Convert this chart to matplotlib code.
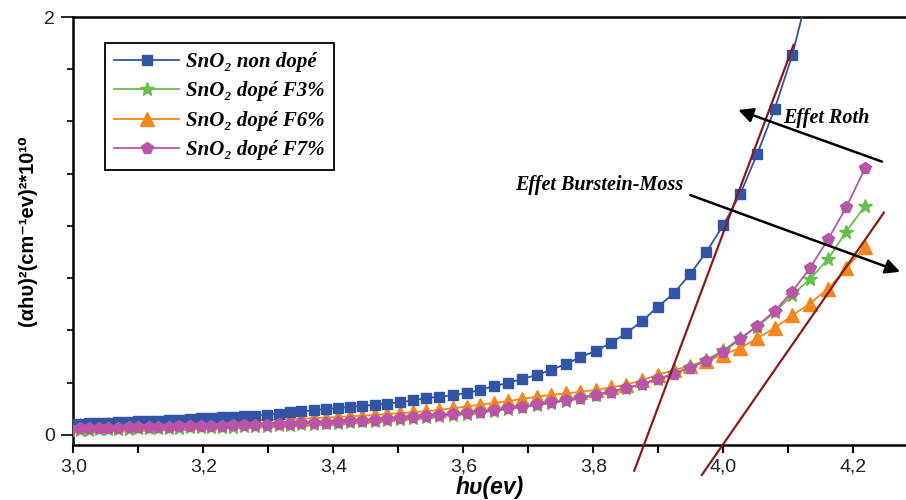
import matplotlib
matplotlib.use("Agg")
import matplotlib.pyplot as plt
from matplotlib.ticker import MultipleLocator, FixedLocator, FuncFormatter

# ---------------- data ----------------
photon_energy_ev = [
    2.995, 3.010, 3.024, 3.039, 3.054, 3.069, 3.085, 3.100, 3.116, 3.131,
    3.147, 3.163, 3.179, 3.196, 3.212, 3.229, 3.246, 3.263, 3.280, 3.298,
    3.316, 3.333, 3.351, 3.370, 3.388, 3.407, 3.425, 3.444, 3.464, 3.483,
    3.503, 3.523, 3.543, 3.563, 3.584, 3.605, 3.626, 3.647, 3.669, 3.690,
    3.713, 3.735, 3.758, 3.780, 3.804, 3.827, 3.851, 3.875, 3.899, 3.924,
    3.949, 3.974, 4.000, 4.026, 4.052, 4.079, 4.106, 4.133, 4.161, 4.189,
    4.218]

sno2_undoped = [
    0.052, 0.054, 0.055, 0.057, 0.059, 0.061, 0.063, 0.065, 0.067, 0.069,
    0.071, 0.073, 0.076, 0.079, 0.082, 0.085, 0.088, 0.090, 0.093, 0.097,
    0.102, 0.108, 0.113, 0.118, 0.124, 0.129, 0.134, 0.139, 0.144, 0.150,
    0.157, 0.165, 0.177, 0.182, 0.191, 0.201, 0.215, 0.234, 0.249, 0.268,
    0.287, 0.311, 0.340, 0.373, 0.402, 0.440, 0.488, 0.545, 0.612, 0.679,
    0.770, 0.876, 1.005, 1.153, 1.344, 1.560, 1.818, 2.150]

sno2_f3 = [
    0.024, 0.025, 0.026, 0.027, 0.028, 0.029, 0.030, 0.031, 0.032, 0.033,
    0.034, 0.035, 0.036, 0.037, 0.038, 0.039, 0.040, 0.041, 0.043, 0.045,
    0.047, 0.049, 0.051, 0.053, 0.056, 0.059, 0.062, 0.065, 0.068, 0.072,
    0.076, 0.080, 0.085, 0.090, 0.095, 0.101, 0.108, 0.115, 0.123, 0.132,
    0.142, 0.152, 0.163, 0.176, 0.190, 0.206, 0.224, 0.245, 0.268, 0.295,
    0.326, 0.360, 0.405, 0.464, 0.518, 0.587, 0.670, 0.745, 0.841, 0.973,
    1.096]

sno2_f6 = [
    0.047, 0.048, 0.049, 0.050, 0.051, 0.052, 0.053, 0.054, 0.055, 0.057,
    0.058, 0.059, 0.061, 0.062, 0.064, 0.065, 0.067, 0.068, 0.070, 0.072,
    0.074, 0.076, 0.078, 0.081, 0.083, 0.086, 0.089, 0.092, 0.096, 0.100,
    0.104, 0.109, 0.114, 0.120, 0.128, 0.136, 0.145, 0.153, 0.162, 0.172,
    0.183, 0.192, 0.199, 0.206, 0.216, 0.228, 0.241, 0.262, 0.288, 0.310,
    0.332, 0.355, 0.384, 0.416, 0.462, 0.512, 0.572, 0.628, 0.700, 0.797,
    0.900]

sno2_f7 = [
    0.030, 0.031, 0.032, 0.033, 0.034, 0.035, 0.036, 0.037, 0.038, 0.039,
    0.040, 0.041, 0.042, 0.043, 0.044, 0.045, 0.046, 0.047, 0.048, 0.049,
    0.051, 0.053, 0.055, 0.057, 0.059, 0.062, 0.065, 0.068, 0.071, 0.075,
    0.080, 0.084, 0.089, 0.094, 0.099, 0.105, 0.112, 0.119, 0.127, 0.136,
    0.146, 0.156, 0.167, 0.179, 0.193, 0.208, 0.225, 0.244, 0.266, 0.292,
    0.322, 0.355, 0.399, 0.458, 0.522, 0.593, 0.686, 0.797, 0.936, 1.089,
    1.276]

series_labels = ["SnO\u2082 non dopé", "SnO\u2082 dopé F3%",
                 "SnO\u2082 dopé F6%", "SnO\u2082 dopé F7%"]

# linear fits (end points)
fit_undoped_x = [3.863, 4.108]
fit_undoped_y = [-0.171, 1.866]
fit_doped_x = [3.967, 4.247]
fit_doped_y = [-0.191, 1.064]

# annotation arrows (tail -> head) and texts
roth_tail = (4.244, 1.308)
roth_head = (4.023, 1.555)
bm_tail = (3.949, 1.148)
bm_head = (4.272, 0.781)
roth_text_pos = (4.092, 1.517)
bm_text_pos = (3.679, 1.196)

x_tick_values = [3.0, 3.2, 3.4, 3.6, 3.8, 4.0, 4.2]
y_tick_values = [0, 2]

# ---------------- figure ----------------
fig = plt.figure(figsize=(9.06, 5.0), dpi=100)
ax = fig.add_axes([73.3 / 906, 55 / 500, 1 - 73.3 / 906, (445 - 17) / 500])

serif_bi = dict(family=["Liberation Serif", "DejaVu Serif"], weight="bold", style="italic")

blue = "#3154A5"
green = "#66C04A"
orange = "#F7861E"
pink = "#B955A8"

n_blue = len(sno2_undoped)
ax.plot(photon_energy_ev[:n_blue], sno2_undoped, color=blue, lw=1.3,
        marker="s", ms=7.5, mec=blue, mfc=blue, label=series_labels[0], zorder=3)
ax.plot(photon_energy_ev, sno2_f3, color=green, lw=1.3,
        marker="*", ms=10, mec=green, mfc=green, label=series_labels[1], zorder=3)
ax.plot(photon_energy_ev, sno2_f6, color=orange, lw=1.3,
        marker="^", ms=9.5, mec=orange, mfc=orange, label=series_labels[2], zorder=2)
ax.plot(photon_energy_ev, sno2_f7, color=pink, lw=1.3,
        marker="p", ms=8.5, mec=pink, mfc=pink, label=series_labels[3], zorder=4)

fit_color = "#8B1A1A"
ax.plot(fit_undoped_x, fit_undoped_y, color=fit_color, lw=1.6, clip_on=False, zorder=5)
ax.plot(fit_doped_x, fit_doped_y, color=fit_color, lw=1.6, clip_on=False, zorder=5)

arrow_props = dict(arrowstyle="-|>", color="black", lw=1.8, mutation_scale=22,
                   shrinkA=0, shrinkB=0)
ax.annotate("", xy=roth_head, xytext=roth_tail, arrowprops=arrow_props, zorder=6)
ax.annotate("", xy=bm_head, xytext=bm_tail, arrowprops=arrow_props, zorder=6)
ax.text(*roth_text_pos, "Effet Roth", fontsize=14.5, va="center", ha="left", **serif_bi)
ax.text(*bm_text_pos, "Effet Burstein-Moss", fontsize=14.5, va="center", ha="left", **serif_bi)

ax.set_xlim(3.0, 4.281)
ax.set_ylim(-0.048, 2.0)

ax.xaxis.set_major_locator(FixedLocator(x_tick_values))
ax.xaxis.set_minor_locator(MultipleLocator(0.1))
ax.xaxis.set_major_formatter(FuncFormatter(lambda v, p: f"{v:.1f}".replace(".", ",")))
ax.yaxis.set_major_locator(FixedLocator(y_tick_values))
ax.yaxis.set_minor_locator(MultipleLocator(0.25))
ax.yaxis.set_major_formatter(FuncFormatter(lambda v, p: f"{v:g}"))

ax.tick_params(axis="x", which="both", direction="out", length=6, width=1.5,
               labelsize=14, pad=4)
ax.tick_params(axis="y", which="major", direction="out", length=9, width=1.2,
               labelsize=14, pad=4)
ax.tick_params(axis="y", which="minor", direction="out", length=4.5, width=1.2)
for lab in ax.get_xticklabels() + ax.get_yticklabels():
    lab.set_family(["Liberation Sans", "DejaVu Sans"])
    lab.set_color("#222222")

for side in ["left", "bottom", "top"]:
    ax.spines[side].set_linewidth(1.8)
ax.spines["right"].set_visible(False)

ax.set_xlabel("h\u03c5(ev)", fontsize=16.5, fontweight="bold", style="italic",
              family=["Liberation Sans", "DejaVu Sans"], labelpad=0)
ax.set_ylabel("(\u03b1h\u03c5)\u00b2(cm\u207b\u00b9ev)\u00b2*10\u00b9\u2070", fontsize=14.5,
              fontweight="bold", family=["Liberation Sans", "DejaVu Sans"], labelpad=5)

leg = ax.legend(loc="upper left", bbox_to_anchor=(0.038, 0.94), borderaxespad=0,
                frameon=True, fancybox=False, framealpha=1, edgecolor="black",
                prop=dict(family=["Liberation Serif", "DejaVu Serif"], weight="bold",
                          style="italic", size=15),
                handlelength=3.1, labelspacing=0.45, handletextpad=0.35,
                borderpad=0.45, markerscale=1.0)
leg.get_frame().set_linewidth(1.3)

fig.savefig("out.png", dpi=100)
